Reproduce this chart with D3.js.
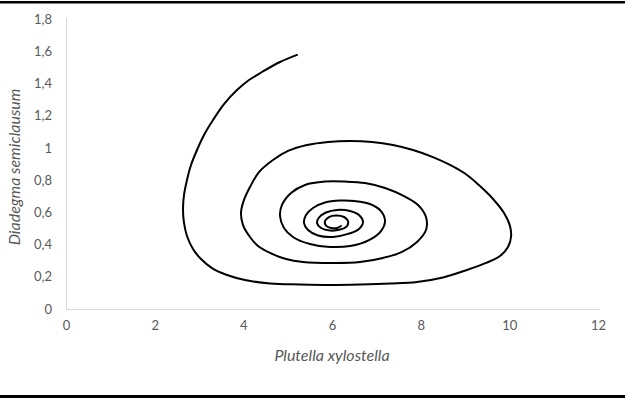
<!DOCTYPE html>
<html>
<head>
<meta charset="utf-8">
<script src="https://cdn.jsdelivr.net/npm/d3@7"></script>
<style>
  html, body { margin: 0; padding: 0; background: #fff; }
  svg { display: block; }
</style>
</head>
<body>
<svg id="chart" width="625" height="398"></svg>
<script>
// Phase-plane trajectory: Plutella xylostella (x) against Diadegma semiclausum (y)
const preyValues = [
  5.211, 4.827, 4.421, 4.128, 3.857, 3.564, 3.316, 3.113, 2.955, 2.820,
  2.729, 2.662, 2.639, 2.662, 2.729, 2.865, 3.045, 3.293, 3.632, 4.038,
  4.602, 5.278, 5.955, 6.632, 7.308, 7.917, 8.504, 9.045, 9.474, 9.789,
  9.970, 10.038, 10.015, 9.880, 9.632, 9.338, 9.045, 8.662, 8.278, 7.827,
  7.376, 6.902, 6.406, 5.910, 5.436, 5.008, 4.669, 4.353, 4.150, 4.015,
  3.947, 3.993, 4.150, 4.331, 4.602, 4.962, 5.346, 6.068, 6.632, 7.150,
  7.579, 7.917, 8.120, 8.120, 7.940, 7.624, 7.196, 6.744, 6.293, 5.842,
  5.391, 5.075, 4.872, 4.827, 4.917, 5.120, 5.504, 5.955, 6.406, 6.835,
  7.105, 7.196, 7.105, 6.857, 6.519, 6.181, 5.842, 5.571, 5.414, 5.368,
  5.459, 5.684, 6.023, 6.361, 6.609, 6.699, 6.609, 6.406, 6.113, 5.865,
  5.707, 5.662, 5.752, 5.955, 6.181, 6.338, 6.361, 6.271, 6.090, 5.932,
  5.842, 5.865, 5.977, 6.113, 6.203
];
const parasitoidValues = [
  1.577, 1.533, 1.471, 1.421, 1.359, 1.272, 1.173, 1.080, 0.987, 0.894,
  0.801, 0.708, 0.614, 0.534, 0.453, 0.372, 0.310, 0.254, 0.211, 0.180,
  0.158, 0.152, 0.149, 0.152, 0.158, 0.168, 0.196, 0.242, 0.286, 0.329,
  0.385, 0.447, 0.515, 0.596, 0.683, 0.763, 0.832, 0.894, 0.943, 0.987,
  1.018, 1.037, 1.043, 1.037, 1.018, 0.981, 0.925, 0.850, 0.757, 0.677,
  0.596, 0.521, 0.447, 0.391, 0.348, 0.310, 0.292, 0.286, 0.292, 0.317,
  0.354, 0.416, 0.490, 0.571, 0.646, 0.701, 0.751, 0.782, 0.791, 0.791,
  0.770, 0.720, 0.646, 0.577, 0.503, 0.447, 0.403, 0.385, 0.391, 0.428,
  0.484, 0.546, 0.608, 0.652, 0.670, 0.673, 0.661, 0.627, 0.583, 0.534,
  0.490, 0.456, 0.447, 0.466, 0.497, 0.540, 0.583, 0.608, 0.615, 0.599,
  0.568, 0.534, 0.503, 0.487, 0.493, 0.515, 0.546, 0.571, 0.580, 0.571,
  0.546, 0.518, 0.503, 0.503, 0.515
];

const xTicks = [0, 2, 4, 6, 8, 10, 12];
const xTickLabels = ["0", "2", "4", "6", "8", "10", "12"];
const yTicks = [0, 0.2, 0.4, 0.6, 0.8, 1, 1.2, 1.4, 1.6, 1.8];
const yTickLabels = ["0", "0,2", "0,4", "0,6", "0,8", "1", "1,2", "1,4", "1,6", "1,8"];

const xTitle = "Plutella xylostella";
const yTitle = "Diadegma semiclausum";

const svg = d3.select("#chart");
const W = 625, H = 398;
const font = "Lato, 'Open Sans', 'Liberation Sans', sans-serif";
const textGrey = "#595959";
const axisGrey = "#d9d9d9";

svg.append("rect").attr("width", W).attr("height", H).attr("fill", "#fff");

// Frame rules at top and bottom
svg.append("rect").attr("x", 0).attr("y", 1).attr("width", W).attr("height", 2.5).attr("fill", "#000");
svg.append("rect").attr("x", 0).attr("y", 395).attr("width", W).attr("height", 3).attr("fill", "#000");

const x = d3.scaleLinear().domain([0, 12]).range([66, 598]);
const y = d3.scaleLinear().domain([0, 1.8]).range([309, 19]);

// Axes: thin grey lines, no tick marks
const xAxis = d3.axisBottom(x).tickValues(xTicks).tickSize(0).tickPadding(12)
  .tickFormat((d, i) => xTickLabels[i]);
const yAxis = d3.axisLeft(y).tickValues(yTicks).tickSize(0).tickPadding(14)
  .tickFormat((d, i) => yTickLabels[i]);

const gx = svg.append("g").attr("transform", `translate(0,${y(0)})`).call(xAxis);
const gy = svg.append("g").attr("transform", `translate(${x(0)},0)`).call(yAxis);

gx.select(".domain").attr("stroke", axisGrey).attr("d", `M${x(0)},0.5H${x(12) + 2}`);
gy.select(".domain").attr("stroke", axisGrey).attr("d", `M0.5,${y(0)}V${y(1.8) - 1}`);

[gx, gy].forEach(g => g.selectAll("text")
  .attr("fill", textGrey).style("font-family", font).style("font-size", "13px"));
gx.selectAll("text").attr("dy", "0.71em");

// Axis titles
svg.append("text")
  .attr("x", 332).attr("y", 361)
  .attr("text-anchor", "middle")
  .style("font-family", font).style("font-size", "16px").style("font-style", "italic")
  .attr("fill", textGrey)
  .text(xTitle);

svg.append("text")
  .attr("transform", `translate(20,167) rotate(-90)`)
  .attr("text-anchor", "middle")
  .style("font-family", font).style("font-size", "16px").style("font-style", "italic")
  .attr("fill", textGrey)
  .text(yTitle);

// Trajectory
const points = preyValues.map((v, i) => [v, parasitoidValues[i]]);
const line = d3.line()
  .x(d => x(d[0]))
  .y(d => y(d[1]))
  .curve(d3.curveCatmullRom.alpha(0.5));

svg.append("path")
  .datum(points)
  .attr("d", line)
  .attr("fill", "none")
  .attr("stroke", "#000")
  .attr("stroke-width", 2)
  .attr("stroke-linejoin", "round")
  .attr("stroke-linecap", "round");
</script>
</body>
</html>
